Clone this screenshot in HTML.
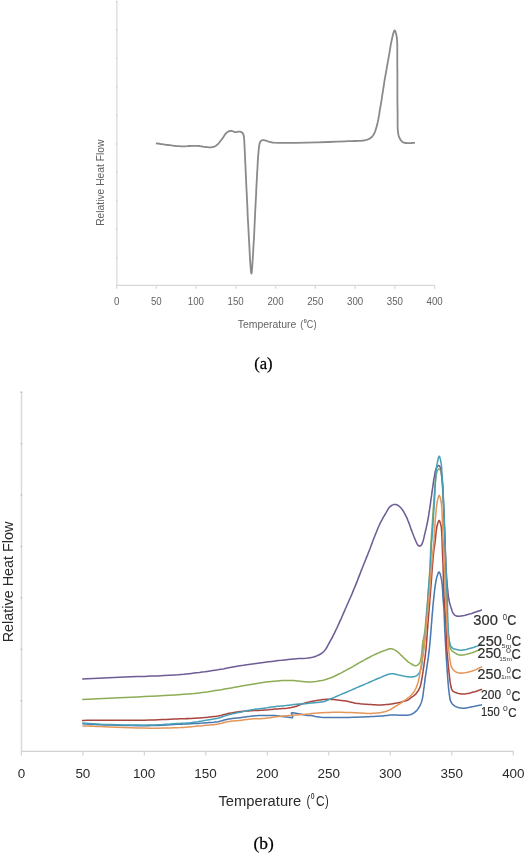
<!DOCTYPE html>
<html><head><meta charset="utf-8">
<style>
html,body{margin:0;padding:0;background:#fff;}
body{width:525px;height:854px;overflow:hidden;position:relative;}
svg{position:absolute;left:0;top:0;will-change:transform;}
text{font-family:"Liberation Sans",sans-serif;}
text.serif{font-family:"Liberation Serif",serif;}
</style></head><body>
<svg width="525" height="854" viewBox="0 0 525 854">
<rect width="525" height="854" fill="#fff"/>
<path d="M116.9,1 V285.3" stroke="#e2e2e2" stroke-width="1.6" fill="none"/>
<path d="M116.2,285.3 H435" stroke="#d8d8d8" stroke-width="1.3" fill="none"/>
<path d="M116.60,285.3 V288.7 M156.35,285.3 V288.7 M196.10,285.3 V288.7 M235.85,285.3 V288.7 M275.60,285.3 V288.7 M315.35,285.3 V288.7 M355.10,285.3 V288.7 M394.85,285.3 V288.7 M434.60,285.3 V288.7" stroke="#dadada" stroke-width="1.3" fill="none"/>
<g fill="#cfcfcf"><rect x="115.9" y="0.85" width="1.5" height="1.3"/><rect x="115.9" y="29.33" width="1.5" height="1.3"/><rect x="115.9" y="57.81" width="1.5" height="1.3"/><rect x="115.9" y="86.29" width="1.5" height="1.3"/><rect x="115.9" y="114.77" width="1.5" height="1.3"/><rect x="115.9" y="143.25" width="1.5" height="1.3"/><rect x="115.9" y="171.73" width="1.5" height="1.3"/><rect x="115.9" y="200.21" width="1.5" height="1.3"/><rect x="115.9" y="228.69" width="1.5" height="1.3"/><rect x="115.9" y="257.17" width="1.5" height="1.3"/></g>
<text transform="translate(113.90,305.00) scale(0.954,1)" font-size="10.17" fill="#636363">0</text>
<text transform="translate(150.95,305.00) scale(0.954,1)" font-size="10.17" fill="#636363">50</text>
<text transform="translate(187.83,305.00) scale(0.954,1)" font-size="10.17" fill="#636363">100</text>
<text transform="translate(227.58,305.00) scale(0.954,1)" font-size="10.17" fill="#636363">150</text>
<text transform="translate(267.46,305.00) scale(0.954,1)" font-size="10.17" fill="#636363">200</text>
<text transform="translate(307.21,305.00) scale(0.954,1)" font-size="10.17" fill="#636363">250</text>
<text transform="translate(347.01,305.00) scale(0.954,1)" font-size="10.17" fill="#636363">300</text>
<text transform="translate(386.76,305.00) scale(0.954,1)" font-size="10.17" fill="#636363">350</text>
<text transform="translate(426.59,305.00) scale(0.954,1)" font-size="10.17" fill="#636363">400</text>
<text transform="translate(237.77,327.80) scale(0.959,1)" font-size="10.90" fill="#636363">Temperature</text>
<text transform="translate(300.22,327.56) scale(0.871,1)" font-size="10.84" fill="#636363">(</text>
<text transform="translate(303.69,322.84) scale(0.896,1)" font-size="6.07" fill="#636363" font-weight="bold">0</text>
<text transform="translate(306.74,327.79) scale(0.850,1)" font-size="10.59" fill="#636363">C</text>
<text transform="translate(313.54,327.56) scale(0.871,1)" font-size="10.84" fill="#636363">)</text>
<text transform="translate(104.49,225.84) rotate(-90) scale(0.958,1)" font-size="10.75" fill="#636363">Relative Heat Flow</text>
<path d="M155.9,143.3 L157.4,143.5 158.9,143.7 160.4,144.0 161.9,144.2 163.4,144.4 164.9,144.6 166.5,144.8 168.0,145.0 169.6,145.2 171.2,145.4 172.8,145.6 174.4,145.8 176.0,146.0 177.6,146.1 179.3,146.2 181.0,146.3 183.0,146.3 185.0,146.3 187.1,146.2 189.2,146.0 191.3,145.9 193.3,145.8 195.3,145.8 197.0,145.8 198.1,145.9 199.2,146.0 200.2,146.2 201.2,146.3 202.2,146.5 203.1,146.7 204.0,146.8 205.0,146.9 205.9,147.0 206.8,147.1 207.7,147.2 208.6,147.3 209.5,147.3 210.3,147.3 211.1,147.3 211.9,147.2 212.5,147.1 213.1,146.9 213.7,146.8 214.2,146.6 214.8,146.3 215.3,146.1 215.9,145.8 216.4,145.4 217.1,144.8 217.9,144.1 218.6,143.3 219.3,142.5 220.0,141.6 220.7,140.6 221.4,139.8 222.1,138.9 222.7,138.1 223.3,137.2 223.8,136.3 224.4,135.5 224.9,134.6 225.5,133.9 226.1,133.2 226.7,132.6 227.2,132.2 227.7,131.9 228.1,131.7 228.6,131.4 229.1,131.2 229.7,131.1 230.2,131.0 230.7,130.9 231.3,130.9 231.9,131.0 232.5,131.2 233.2,131.5 233.8,131.7 234.4,132.0 235.0,132.1 235.6,132.2 236.0,132.2 236.5,132.1 236.9,132.0 237.3,131.9 237.6,131.8 238.0,131.7 238.4,131.6 238.8,131.6 239.2,131.6 239.5,131.6 239.9,131.7 240.2,131.7 240.6,131.8 240.9,131.9 241.2,132.1 241.5,132.2 241.8,132.4 242.0,132.5 242.2,132.7 242.5,133.0 242.7,133.2 242.9,133.4 243.0,133.7 243.2,134.0 243.4,134.4 243.5,134.8 243.6,135.3 243.7,135.8 243.8,136.3 243.9,136.8 243.9,137.4 244.0,138.0 244.1,139.0 244.2,140.0 244.3,141.1 244.3,142.3 244.4,143.6 244.5,144.9 244.5,146.4 244.6,148.0 244.8,151.8 245.0,156.2 245.2,161.2 245.5,166.5 245.7,172.1 246.0,177.8 246.2,183.5 246.5,189.0 246.8,195.0 247.1,201.1 247.4,207.4 247.6,213.7 247.9,220.0 248.3,226.2 248.6,232.2 248.9,238.0 249.2,243.2 249.5,249.0 249.8,254.9 250.1,260.6 250.5,265.7 250.8,269.8 251.1,272.6 251.4,273.6 251.6,273.1 251.8,271.8 252.0,269.7 252.2,267.1 252.4,264.2 252.6,261.0 252.8,257.8 253.0,254.8 253.3,249.7 253.6,244.0 254.0,237.8 254.3,231.4 254.6,224.7 254.9,218.1 255.2,211.7 255.5,205.6 255.8,200.2 256.1,194.6 256.3,189.1 256.6,183.6 256.9,178.4 257.1,173.5 257.4,169.0 257.6,165.0 257.7,163.0 257.8,161.2 257.9,159.4 258.0,157.8 258.1,156.3 258.3,154.8 258.4,153.4 258.5,152.0 258.6,150.9 258.7,149.9 258.8,148.9 258.9,147.9 259.0,147.0 259.1,146.1 259.2,145.3 259.4,144.5 259.5,144.0 259.6,143.6 259.8,143.1 259.9,142.7 260.0,142.3 260.2,141.9 260.4,141.6 260.6,141.3 260.8,141.1 261.1,140.9 261.3,140.7 261.6,140.5 261.9,140.4 262.2,140.3 262.5,140.2 262.8,140.1 263.1,140.1 263.5,140.1 263.8,140.1 264.2,140.2 264.6,140.3 264.9,140.4 265.3,140.5 265.7,140.6 266.2,140.7 266.7,140.9 267.3,141.1 267.8,141.3 268.4,141.5 268.9,141.7 269.5,141.9 270.0,142.0 270.5,142.1 270.9,142.2 271.3,142.3 271.7,142.4 272.1,142.5 272.6,142.6 273.2,142.6 273.9,142.7 278.8,142.9 286.4,142.9 295.9,142.8 306.4,142.6 317.4,142.3 328.0,142.0 337.4,141.6 345.0,141.3 348.5,141.2 351.9,141.1 355.0,141.0 358.0,140.9 360.7,140.8 363.2,140.5 365.5,140.1 367.4,139.6 368.3,139.2 369.1,138.9 369.9,138.5 370.5,138.0 371.1,137.6 371.7,137.0 372.3,136.4 372.8,135.8 373.4,134.9 374.0,134.0 374.5,132.9 375.0,131.8 375.4,130.6 375.8,129.4 376.2,128.1 376.6,126.7 377.2,124.6 377.7,122.4 378.2,120.0 378.6,117.5 379.1,115.0 379.5,112.3 379.9,109.6 380.4,106.9 381.0,103.5 381.6,99.9 382.1,96.2 382.7,92.5 383.3,88.7 383.9,85.0 384.4,81.3 385.0,77.9 385.5,75.1 386.0,72.3 386.5,69.6 386.9,66.9 387.4,64.3 387.9,61.7 388.3,59.1 388.8,56.6 389.2,54.4 389.6,52.1 389.9,49.9 390.3,47.8 390.6,45.6 391.0,43.6 391.4,41.6 391.8,39.8 392.1,38.4 392.5,36.8 392.8,35.2 393.2,33.7 393.6,32.4 393.9,31.4 394.3,30.7 394.6,30.4 394.9,30.6 395.2,31.0 395.5,31.6 395.7,32.5 396.0,33.5 396.3,34.6 396.5,35.7 396.7,36.8 397.0,39.4 397.2,42.4 397.3,45.8 397.3,49.5 397.3,53.5 397.3,57.5 397.3,61.6 397.3,65.7 397.4,71.0 397.4,76.7 397.4,82.7 397.4,88.8 397.4,94.8 397.4,100.7 397.5,106.3 397.6,111.4 397.6,114.9 397.6,118.4 397.6,121.9 397.6,125.1 397.7,128.2 397.9,131.1 398.2,133.6 398.7,135.8 399.1,136.8 399.4,137.8 399.9,138.7 400.3,139.5 400.8,140.2 401.4,140.9 401.9,141.4 402.5,141.9 403.0,142.2 403.5,142.5 404.0,142.6 404.6,142.8 405.2,142.9 405.7,143.0 406.4,143.0 407.0,143.1 407.9,143.2 408.8,143.2 409.8,143.1 410.9,143.1 411.9,143.0 412.9,142.9 414.0,142.9 415.0,142.8" fill="none" stroke="#8a8a8a" stroke-width="1.8" stroke-linejoin="round"/>
<text class="serif" transform="translate(254.17,369.23) scale(0.993,1)" font-size="16.76" fill="#000" stroke="#000" stroke-width="0.25">(a)</text>
<path d="M21.5,391.6 V751.3" stroke="#d9d9d9" stroke-width="1.5" fill="none"/>
<path d="M20.8,751.3 H513.6" stroke="#d2d2d2" stroke-width="1.3" fill="none"/>
<path d="M21.40,751.3 V755.5 M82.88,751.3 V755.5 M144.36,751.3 V755.5 M205.84,751.3 V755.5 M267.32,751.3 V755.5 M328.80,751.3 V755.5 M390.28,751.3 V755.5 M451.76,751.3 V755.5 M513.24,751.3 V755.5" stroke="#d6d6d6" stroke-width="1.3" fill="none"/>
<g fill="#bdbdbd"><rect x="20.6" y="391.60" width="1.6" height="1.4"/><rect x="20.6" y="443.00" width="1.6" height="1.4"/><rect x="20.6" y="494.40" width="1.6" height="1.4"/><rect x="20.6" y="545.80" width="1.6" height="1.4"/><rect x="20.6" y="597.20" width="1.6" height="1.4"/><rect x="20.6" y="648.60" width="1.6" height="1.4"/><rect x="20.6" y="700.00" width="1.6" height="1.4"/></g>
<text transform="translate(17.66,777.97) scale(1.002,1)" font-size="13.42" fill="#2a2a2a">0</text>
<text transform="translate(75.40,777.97) scale(1.002,1)" font-size="13.42" fill="#2a2a2a">50</text>
<text transform="translate(132.89,777.97) scale(1.002,1)" font-size="13.42" fill="#2a2a2a">100</text>
<text transform="translate(194.37,777.97) scale(1.002,1)" font-size="13.42" fill="#2a2a2a">150</text>
<text transform="translate(256.03,777.97) scale(1.002,1)" font-size="13.42" fill="#2a2a2a">200</text>
<text transform="translate(317.51,777.97) scale(1.002,1)" font-size="13.42" fill="#2a2a2a">250</text>
<text transform="translate(379.07,777.97) scale(1.002,1)" font-size="13.42" fill="#2a2a2a">300</text>
<text transform="translate(440.55,777.97) scale(1.002,1)" font-size="13.42" fill="#2a2a2a">350</text>
<text transform="translate(502.13,777.97) scale(1.002,1)" font-size="13.42" fill="#2a2a2a">400</text>
<text transform="translate(218.48,805.70) scale(1.036,1)" font-size="14.24" fill="#2a2a2a">Temperature</text>
<text transform="translate(306.50,805.81) scale(0.812,1)" font-size="13.95" fill="#2a2a2a">(</text>
<text transform="translate(311.06,799.41) scale(0.704,1)" font-size="8.62" fill="#2a2a2a" stroke="#2a2a2a" stroke-width="0.25">0</text>
<text transform="translate(316.09,806.25) scale(0.825,1)" font-size="14.55" fill="#2a2a2a">C</text>
<text transform="translate(325.03,805.81) scale(0.812,1)" font-size="13.95" fill="#2a2a2a">)</text>
<text transform="translate(13.05,642.28) rotate(-90) scale(0.988,1)" font-size="14.56" fill="#2a2a2a">Relative Heat Flow</text>
<g fill="none" stroke-width="1.55" stroke-linejoin="round">
<path d="M82.4,723.8 L84.5,723.9 86.6,724.1 88.6,724.2 90.6,724.3 92.7,724.5 95.0,724.6 97.4,724.7 100.0,724.8 105.1,725.0 111.0,725.1 117.4,725.3 124.2,725.5 131.1,725.6 137.8,725.6 144.2,725.6 150.0,725.6 154.2,725.5 158.4,725.4 162.5,725.2 166.5,725.0 170.3,724.7 173.8,724.5 177.1,724.3 180.0,724.2 181.5,724.1 182.8,724.1 184.0,724.0 185.2,724.0 186.3,724.0 187.5,723.9 188.7,723.9 190.0,723.8 191.8,723.7 193.8,723.6 195.8,723.5 197.9,723.4 200.0,723.2 202.1,723.1 204.1,722.9 206.0,722.8 207.6,722.7 209.2,722.6 210.7,722.5 212.2,722.4 213.7,722.3 215.1,722.1 216.6,721.9 218.0,721.7 219.3,721.4 220.6,721.1 221.8,720.8 223.0,720.4 224.2,720.0 225.5,719.7 226.7,719.4 228.0,719.1 229.4,718.9 230.9,718.7 232.4,718.5 233.9,718.3 235.4,718.2 237.0,718.0 238.5,717.9 240.0,717.7 241.5,717.5 243.0,717.3 244.5,717.1 246.0,716.9 247.5,716.6 249.0,716.4 250.5,716.3 252.0,716.1 253.5,716.0 255.0,715.8 256.5,715.7 258.0,715.6 259.5,715.5 261.0,715.5 262.5,715.4 264.0,715.4 265.5,715.4 267.1,715.4 268.6,715.4 270.2,715.4 271.7,715.5 273.2,715.5 274.7,715.6 276.0,715.7 277.0,715.8 277.9,715.9 278.7,716.0 279.6,716.1 280.4,716.2 281.2,716.4 282.1,716.5 282.9,716.6 283.8,716.7 284.7,716.8 285.6,716.9 286.5,717.0 287.4,717.1 288.2,717.2 289.0,717.3 289.7,717.4 290.1,717.5 290.5,717.5 290.9,717.6 291.3,717.7 291.6,717.7 291.9,717.7 292.2,717.7 292.4,717.6 292.5,717.5 292.6,717.3 292.6,717.1 292.7,716.8 292.7,716.6 292.7,716.3 292.6,716.0 292.6,715.8 292.6,715.5 292.5,715.3 292.4,715.0 292.3,714.7 292.1,714.5 292.0,714.2 291.9,714.0 291.8,713.8 291.7,713.7 291.6,713.6 291.6,713.5 291.5,713.4 291.4,713.3 291.3,713.2 291.3,713.2 291.3,713.1 291.4,713.0 291.5,713.0 291.6,712.9 291.8,712.9 291.9,712.9 292.1,712.8 292.3,712.8 292.5,712.8 292.7,712.8 292.9,712.8 293.1,712.8 293.3,712.8 293.5,712.9 293.8,712.9 294.0,713.0 294.3,713.0 294.9,713.1 295.5,713.2 296.2,713.3 297.0,713.4 297.7,713.6 298.5,713.7 299.3,713.9 300.0,714.0 300.7,714.1 301.4,714.3 302.1,714.5 302.8,714.6 303.5,714.8 304.3,714.9 305.0,715.1 305.7,715.2 306.5,715.3 307.2,715.4 308.0,715.4 308.8,715.4 309.6,715.5 310.4,715.5 311.2,715.6 312.0,715.7 312.8,715.8 313.6,716.0 314.4,716.2 315.3,716.4 316.1,716.6 317.0,716.8 318.0,717.0 319.0,717.1 320.9,717.3 323.0,717.4 325.3,717.5 327.7,717.5 330.2,717.5 332.8,717.5 335.4,717.5 338.0,717.5 341.4,717.5 345.0,717.4 348.7,717.4 352.6,717.3 356.4,717.2 360.1,717.0 363.5,716.9 366.7,716.8 368.8,716.7 370.8,716.6 372.7,716.5 374.5,716.4 376.2,716.3 378.0,716.2 379.7,716.1 381.4,716.0 382.9,715.9 384.4,715.7 385.9,715.5 387.3,715.4 388.7,715.2 390.2,715.1 391.5,715.0 392.9,714.9 394.1,714.9 395.3,714.9 396.4,715.0 397.6,715.1 398.7,715.2 399.8,715.2 400.9,715.3 402.0,715.3 403.0,715.3 404.1,715.3 405.2,715.3 406.2,715.3 407.2,715.2 408.2,715.1 409.1,715.0 410.0,714.8 410.6,714.6 411.1,714.4 411.7,714.2 412.1,714.0 412.6,713.7 413.1,713.4 413.5,713.1 414.0,712.8 414.5,712.5 414.9,712.1 415.4,711.7 415.8,711.3 416.3,710.9 416.7,710.4 417.1,710.0 417.5,709.5 417.9,708.9 418.3,708.4 418.7,707.8 419.1,707.1 419.5,706.5 419.9,705.8 420.2,705.2 420.5,704.5 420.8,703.8 421.0,703.2 421.3,702.5 421.5,701.9 421.7,701.2 421.9,700.5 422.1,699.7 422.3,698.9 422.6,697.7 422.8,696.3 423.0,694.8 423.2,693.3 423.4,691.8 423.6,690.3 423.8,688.8 424.0,687.4 424.2,686.3 424.3,685.2 424.4,684.1 424.6,683.1 424.7,682.1 424.8,681.0 425.0,680.0 425.1,678.9 425.3,677.7 425.4,676.6 425.6,675.4 425.8,674.2 426.0,673.0 426.2,671.7 426.4,670.4 426.6,669.0 426.9,666.9 427.2,664.7 427.6,662.3 427.9,659.9 428.3,657.4 428.6,654.9 428.9,652.4 429.2,650.0 429.5,647.5 429.7,645.0 430.0,642.5 430.2,639.9 430.4,637.4 430.6,634.9 430.8,632.4 431.0,630.0 431.2,627.9 431.3,625.8 431.5,623.7 431.7,621.7 431.8,619.7 432.0,617.6 432.1,615.6 432.3,613.6 432.5,611.6 432.7,609.6 432.8,607.5 433.0,605.5 433.2,603.5 433.4,601.5 433.6,599.6 433.8,597.7 434.0,596.1 434.1,594.5 434.3,593.0 434.5,591.5 434.6,590.0 434.8,588.5 435.0,587.1 435.2,585.7 435.4,584.5 435.6,583.3 435.8,582.0 436.0,580.9 436.2,579.7 436.5,578.6 436.7,577.6 437.0,576.6 437.2,575.9 437.5,575.1 437.8,574.3 438.0,573.6 438.3,573.0 438.6,572.5 438.8,572.1 439.1,572.0 439.3,572.1 439.6,572.5 439.8,573.0 440.1,573.6 440.3,574.3 440.5,575.1 440.7,575.9 440.9,576.6 441.1,577.6 441.4,578.6 441.5,579.7 441.7,580.9 441.9,582.0 442.0,583.3 442.2,584.5 442.3,585.7 442.4,587.1 442.5,588.6 442.6,590.1 442.7,591.6 442.8,593.1 442.8,594.7 442.9,596.2 443.0,597.7 443.1,599.2 443.2,600.7 443.4,602.2 443.5,603.7 443.6,605.2 443.8,606.7 443.9,608.3 444.0,610.0 444.1,612.3 444.2,614.7 444.3,617.1 444.4,619.7 444.5,622.3 444.6,624.9 444.7,627.5 444.8,630.0 444.9,632.5 445.1,635.0 445.2,637.5 445.3,640.1 445.5,642.6 445.6,645.1 445.8,647.6 445.9,650.0 446.0,652.3 446.2,654.6 446.3,656.8 446.4,659.1 446.6,661.3 446.7,663.6 446.9,665.8 447.0,668.0 447.2,670.2 447.3,672.4 447.5,674.6 447.6,676.9 447.8,679.0 448.0,681.1 448.1,683.1 448.3,685.0 448.4,686.3 448.5,687.5 448.6,688.6 448.8,689.7 448.9,690.8 449.0,691.9 449.1,692.9 449.3,694.0 449.4,695.0 449.6,696.0 449.7,697.0 449.8,698.0 450.0,698.9 450.2,699.8 450.5,700.7 450.8,701.5 451.2,702.2 451.6,702.9 452.0,703.5 452.5,704.1 453.1,704.7 453.6,705.2 454.3,705.7 454.9,706.1 455.7,706.5 456.5,706.9 457.4,707.3 458.3,707.5 459.3,707.8 460.3,708.0 461.3,708.1 462.3,708.2 463.5,708.2 464.7,708.2 465.9,708.0 467.2,707.8 468.4,707.6 469.7,707.3 471.0,707.0 472.2,706.8 473.4,706.6 474.7,706.3 475.9,706.1 477.1,705.8 478.3,705.5 479.6,705.2 480.8,705.0 482.0,704.7" stroke="#4a78b0"/>
<path d="M82.0,720.4 L84.2,720.4 86.3,720.3 88.4,720.3 90.4,720.3 92.6,720.3 94.9,720.2 97.3,720.2 100.0,720.2 105.1,720.2 111.0,720.2 117.5,720.2 124.2,720.2 131.1,720.3 137.8,720.2 144.2,720.2 150.0,720.1 154.2,720.0 158.4,719.8 162.5,719.6 166.5,719.5 170.3,719.3 173.8,719.1 177.1,718.9 180.0,718.8 181.5,718.8 182.8,718.7 184.0,718.7 185.2,718.7 186.3,718.6 187.5,718.6 188.7,718.6 190.0,718.5 191.8,718.4 193.8,718.3 195.8,718.2 197.9,718.0 200.0,717.9 202.1,717.7 204.1,717.6 206.0,717.4 207.6,717.3 209.2,717.1 210.7,717.0 212.2,716.8 213.7,716.6 215.1,716.4 216.6,716.2 218.0,716.0 219.3,715.7 220.5,715.5 221.8,715.2 223.0,714.8 224.2,714.5 225.5,714.2 226.7,713.9 228.0,713.6 229.4,713.3 230.9,713.0 232.4,712.8 233.9,712.5 235.4,712.2 237.0,712.0 238.5,711.8 240.0,711.6 241.5,711.4 243.0,711.3 244.5,711.2 245.9,711.1 247.4,711.0 248.9,710.9 250.5,710.8 252.0,710.7 253.7,710.6 255.4,710.5 257.2,710.4 258.9,710.4 260.7,710.3 262.4,710.2 264.1,710.1 265.7,710.0 267.1,709.9 268.4,709.8 269.6,709.6 270.9,709.5 272.1,709.4 273.4,709.2 274.7,709.1 276.0,709.0 277.5,708.9 279.0,708.8 280.5,708.7 282.1,708.6 283.6,708.5 285.2,708.4 286.6,708.3 288.0,708.1 289.1,707.9 290.2,707.7 291.3,707.6 292.3,707.3 293.3,707.1 294.2,706.9 295.1,706.6 296.0,706.4 296.6,706.2 297.1,706.0 297.6,705.8 298.1,705.6 298.5,705.4 299.0,705.2 299.5,705.0 300.0,704.8 300.6,704.6 301.2,704.3 301.8,704.1 302.5,703.9 303.1,703.6 303.7,703.4 304.4,703.2 305.0,703.0 305.6,702.8 306.2,702.7 306.8,702.5 307.5,702.4 308.1,702.2 308.7,702.1 309.4,701.9 310.0,701.8 310.7,701.6 311.4,701.5 312.2,701.3 312.9,701.2 313.6,701.0 314.4,700.9 315.2,700.7 316.0,700.6 317.0,700.4 318.1,700.2 319.3,700.1 320.5,699.9 321.6,699.7 322.8,699.6 323.9,699.5 325.0,699.4 325.9,699.3 326.8,699.3 327.7,699.3 328.5,699.3 329.4,699.3 330.2,699.3 331.1,699.4 332.0,699.4 333.0,699.5 334.0,699.6 335.0,699.7 336.0,699.8 337.1,699.9 338.1,700.1 339.1,700.2 340.0,700.3 340.8,700.4 341.5,700.5 342.2,700.6 342.9,700.7 343.7,700.7 344.4,700.8 345.2,701.0 346.0,701.1 347.2,701.3 348.5,701.6 349.9,701.9 351.3,702.2 352.7,702.6 354.2,702.9 355.6,703.2 357.1,703.4 358.7,703.6 360.3,703.8 361.9,703.9 363.5,704.1 365.2,704.2 366.8,704.3 368.4,704.4 370.0,704.5 371.4,704.6 372.8,704.7 374.2,704.7 375.6,704.8 377.0,704.9 378.3,704.9 379.7,704.9 381.0,704.9 382.2,704.9 383.4,704.8 384.6,704.7 385.7,704.6 386.9,704.5 388.0,704.4 389.0,704.3 390.0,704.2 390.7,704.1 391.4,704.0 392.0,703.9 392.6,703.8 393.2,703.7 393.8,703.5 394.4,703.4 395.0,703.3 395.6,703.2 396.3,703.1 396.9,703.0 397.5,702.9 398.2,702.8 398.8,702.7 399.4,702.5 400.0,702.4 400.5,702.3 401.0,702.1 401.5,702.0 401.9,701.8 402.4,701.7 402.9,701.5 403.3,701.3 403.8,701.2 404.3,701.1 404.8,701.0 405.2,700.9 405.7,700.8 406.2,700.7 406.7,700.5 407.1,700.4 407.6,700.2 408.1,699.9 408.6,699.6 409.1,699.3 409.5,698.9 410.0,698.5 410.5,698.1 410.9,697.8 411.4,697.4 411.9,697.0 412.4,696.7 412.9,696.4 413.4,696.0 413.8,695.7 414.3,695.3 414.8,694.9 415.2,694.5 415.6,694.1 416.1,693.6 416.5,693.1 416.9,692.6 417.3,692.1 417.6,691.5 418.0,691.0 418.3,690.5 418.6,690.0 418.9,689.5 419.1,689.0 419.4,688.5 419.6,688.0 419.8,687.5 420.0,687.0 420.2,686.5 420.4,686.0 420.5,685.4 420.7,684.9 420.8,684.3 420.9,683.8 421.1,683.2 421.2,682.6 421.3,682.0 421.4,681.3 421.6,680.6 421.7,679.8 421.8,679.1 421.9,678.3 422.1,677.6 422.2,676.8 422.3,676.0 422.4,675.2 422.6,674.4 422.7,673.6 422.8,672.7 423.0,671.9 423.1,671.0 423.2,670.0 423.4,669.0 423.7,667.1 424.0,665.0 424.3,662.7 424.6,660.4 425.0,657.9 425.3,655.3 425.6,652.6 425.9,650.0 426.2,646.6 426.5,642.9 426.8,639.1 427.1,635.2 427.4,631.3 427.7,627.4 427.9,623.6 428.2,620.0 428.5,616.9 428.7,613.9 429.0,610.9 429.2,608.0 429.5,605.1 429.7,602.2 429.9,599.1 430.2,596.0 430.5,592.2 430.8,588.3 431.1,584.2 431.4,580.1 431.7,576.0 431.9,572.1 432.2,568.4 432.5,565.0 432.7,562.8 432.9,560.8 433.0,558.8 433.2,556.9 433.4,555.0 433.5,553.3 433.7,551.6 433.9,550.0 434.0,548.9 434.2,547.8 434.4,546.8 434.5,545.8 434.7,544.8 434.8,543.9 435.0,542.9 435.1,542.0 435.2,541.2 435.3,540.5 435.3,539.8 435.4,539.1 435.5,538.3 435.5,537.6 435.6,536.8 435.7,536.0 435.8,534.8 436.0,533.5 436.1,532.1 436.3,530.7 436.5,529.3 436.7,527.9 436.9,526.6 437.2,525.5 437.4,524.7 437.6,523.9 437.9,523.0 438.1,522.2 438.4,521.6 438.6,521.0 438.9,520.6 439.1,520.5 439.3,520.6 439.6,521.0 439.9,521.6 440.1,522.2 440.4,523.0 440.6,523.9 440.8,524.7 441.0,525.5 441.2,526.6 441.4,527.9 441.5,529.2 441.6,530.6 441.7,532.0 441.8,533.4 441.8,534.7 441.9,536.0 442.0,537.0 442.0,538.0 442.0,538.9 442.1,539.9 442.1,540.8 442.1,541.9 442.2,543.0 442.2,544.2 442.3,546.7 442.4,549.6 442.5,552.8 442.7,556.2 442.8,559.7 443.0,563.2 443.1,566.7 443.2,570.0 443.3,573.3 443.4,576.5 443.5,579.8 443.6,583.1 443.6,586.3 443.7,589.6 443.9,592.8 444.0,596.0 444.2,599.0 444.4,602.0 444.6,605.0 444.8,607.9 445.1,610.8 445.3,613.8 445.5,616.9 445.7,620.0 445.9,623.7 446.0,627.6 446.2,631.6 446.3,635.6 446.4,639.6 446.6,643.4 446.7,646.9 446.9,650.0 447.0,651.8 447.2,653.4 447.3,654.9 447.4,656.3 447.6,657.7 447.7,659.1 447.9,660.5 448.0,662.0 448.1,663.5 448.3,665.0 448.4,666.4 448.6,667.9 448.7,669.4 448.9,670.9 449.0,672.3 449.2,673.8 449.4,675.3 449.5,676.8 449.7,678.3 449.9,679.8 450.0,681.3 450.2,682.7 450.5,684.0 450.7,685.2 450.9,686.0 451.0,686.8 451.2,687.5 451.4,688.2 451.6,688.9 451.8,689.5 452.1,690.1 452.5,690.6 453.0,691.1 453.6,691.5 454.2,691.9 454.9,692.3 455.6,692.6 456.3,692.8 457.1,693.1 457.8,693.3 458.6,693.5 459.5,693.7 460.4,693.8 461.3,693.9 462.3,693.9 463.2,694.0 464.2,693.9 465.1,693.9 466.1,693.8 467.2,693.6 468.3,693.4 469.3,693.2 470.4,692.9 471.5,692.6 472.5,692.3 473.6,692.0 474.7,691.7 475.7,691.4 476.8,691.0 477.8,690.7 478.9,690.3 479.9,689.9 481.0,689.6 482.0,689.2" stroke="#a8463f"/>
<path d="M82.2,699.4 L87.5,699.2 92.8,698.9 98.1,698.7 103.4,698.5 108.7,698.2 114.1,698.0 119.5,697.8 125.0,697.5 131.2,697.2 137.7,696.9 144.4,696.6 151.0,696.2 157.6,695.9 163.9,695.6 169.7,695.2 175.0,694.9 178.1,694.7 181.1,694.5 183.8,694.3 186.4,694.1 189.0,693.9 191.5,693.7 194.1,693.5 196.7,693.2 199.4,692.9 202.0,692.6 204.6,692.2 207.2,691.9 209.9,691.5 212.5,691.1 215.2,690.6 218.0,690.2 221.2,689.7 224.5,689.1 227.9,688.5 231.3,687.9 234.7,687.3 238.1,686.7 241.4,686.1 244.7,685.5 247.8,685.0 250.8,684.5 253.8,684.0 256.9,683.5 259.9,683.0 262.8,682.5 265.8,682.1 268.7,681.8 271.5,681.5 274.2,681.2 277.0,681.0 279.7,680.8 282.4,680.6 285.1,680.5 287.6,680.4 290.0,680.4 291.8,680.5 293.6,680.6 295.4,680.7 297.0,680.9 298.7,681.1 300.3,681.3 301.8,681.5 303.3,681.6 304.4,681.7 305.4,681.8 306.4,681.8 307.3,681.9 308.2,682.0 309.2,682.0 310.3,682.0 311.4,681.9 313.2,681.7 315.3,681.5 317.4,681.2 319.6,680.8 321.9,680.4 324.1,679.9 326.4,679.3 328.6,678.6 331.0,677.7 333.4,676.7 335.9,675.5 338.4,674.3 340.8,673.1 343.1,671.8 345.4,670.6 347.6,669.4 349.3,668.5 351.0,667.6 352.6,666.7 354.1,665.8 355.7,664.9 357.2,664.0 358.6,663.2 360.0,662.4 361.1,661.8 362.1,661.2 363.1,660.7 364.1,660.1 365.1,659.6 366.0,659.0 367.0,658.5 368.0,658.0 369.0,657.5 370.0,657.0 371.0,656.4 372.0,655.9 373.0,655.4 374.0,654.9 375.0,654.5 376.0,654.0 377.0,653.5 378.0,653.1 379.0,652.7 380.0,652.2 381.0,651.8 382.0,651.4 383.0,651.1 384.0,650.7 384.9,650.4 385.7,650.0 386.6,649.7 387.4,649.4 388.3,649.1 389.1,648.9 389.9,648.7 390.7,648.7 391.4,648.8 392.1,648.9 392.7,649.1 393.4,649.3 394.0,649.6 394.7,649.9 395.3,650.3 396.0,650.7 396.8,651.3 397.7,651.9 398.5,652.7 399.4,653.5 400.2,654.3 401.0,655.1 401.9,655.9 402.7,656.7 403.5,657.5 404.3,658.3 405.1,659.1 406.0,659.9 406.8,660.7 407.6,661.4 408.4,662.1 409.3,662.7 410.1,663.2 411.0,663.8 411.9,664.3 412.8,664.8 413.6,665.2 414.5,665.5 415.3,665.7 416.0,665.7 416.5,665.6 417.0,665.4 417.4,665.2 417.8,664.9 418.2,664.5 418.6,664.2 419.0,663.7 419.3,663.3 419.7,662.7 420.0,662.0 420.3,661.2 420.5,660.4 420.7,659.5 420.9,658.6 421.1,657.7 421.3,656.7 421.5,655.2 421.7,653.7 421.9,652.0 422.1,650.2 422.2,648.4 422.3,646.6 422.5,644.9 422.7,643.3 422.9,641.9 423.1,640.6 423.4,639.4 423.6,638.1 423.9,636.8 424.1,635.5 424.4,634.1 424.6,632.7 424.9,630.7 425.1,628.6 425.3,626.4 425.5,624.2 425.7,621.9 425.9,619.6 426.1,617.3 426.3,615.0 426.5,612.7 426.7,610.4 426.9,608.1 427.2,605.7 427.4,603.4 427.6,601.0 427.8,598.5 428.0,596.0 428.2,592.9 428.5,589.8 428.7,586.5 429.0,583.2 429.2,579.9 429.4,576.6 429.6,573.3 429.8,570.0 430.0,566.8 430.1,563.7 430.2,560.5 430.4,557.3 430.5,554.1 430.6,551.0 430.7,548.0 430.9,545.0 431.0,542.4 431.2,539.8 431.4,537.3 431.5,534.9 431.7,532.4 431.9,529.9 432.0,527.5 432.2,525.0 432.4,522.5 432.5,520.0 432.7,517.5 432.9,514.9 433.1,512.4 433.2,509.9 433.4,507.4 433.6,505.0 433.8,502.7 433.9,500.3 434.1,498.0 434.2,495.7 434.4,493.4 434.6,491.2 434.7,489.0 434.9,487.0 435.0,485.5 435.2,484.0 435.3,482.5 435.4,481.1 435.6,479.7 435.7,478.4 435.9,477.2 436.1,476.0 436.2,475.2 436.4,474.4 436.5,473.6 436.7,472.9 436.9,472.2 437.1,471.6 437.3,471.0 437.5,470.5 437.7,470.2 437.8,470.0 438.0,469.7 438.2,469.5 438.3,469.3 438.5,469.2 438.7,469.1 438.9,469.0 439.1,469.0 439.3,469.0 439.5,469.1 439.7,469.3 439.9,469.4 440.1,469.6 440.2,469.8 440.4,470.0 440.7,470.5 440.9,471.1 441.0,471.8 441.2,472.5 441.3,473.4 441.4,474.2 441.5,475.1 441.6,476.0 441.8,477.2 441.9,478.5 442.0,479.8 442.1,481.2 442.2,482.7 442.3,484.1 442.4,485.6 442.5,487.0 442.6,488.6 442.7,490.1 442.8,491.7 442.9,493.3 443.0,494.9 443.0,496.6 443.1,498.3 443.2,500.0 443.3,502.1 443.4,504.3 443.5,506.5 443.6,508.8 443.7,511.1 443.8,513.5 443.9,515.9 444.0,518.4 444.1,521.4 444.2,524.5 444.3,527.8 444.5,531.0 444.6,534.3 444.7,537.6 444.8,540.9 444.9,544.2 445.0,547.4 445.1,550.6 445.2,553.8 445.3,557.0 445.5,560.2 445.6,563.4 445.7,566.7 445.8,570.0 445.9,573.7 446.0,577.4 446.2,581.2 446.3,585.0 446.4,588.9 446.5,592.6 446.7,596.4 446.8,600.0 446.9,603.3 447.0,606.6 447.2,609.8 447.3,613.0 447.4,616.2 447.5,619.3 447.7,622.2 447.8,625.0 447.9,627.1 448.0,629.2 448.1,631.2 448.3,633.2 448.4,635.0 448.5,636.8 448.6,638.5 448.8,640.0 448.9,640.9 449.0,641.7 449.1,642.5 449.2,643.3 449.3,644.0 449.4,644.7 449.5,645.3 449.7,646.0 449.9,646.6 450.0,647.1 450.2,647.7 450.4,648.2 450.6,648.7 450.9,649.2 451.1,649.7 451.4,650.1 451.7,650.5 452.0,650.8 452.3,651.1 452.6,651.3 453.0,651.6 453.3,651.9 453.7,652.1 454.1,652.4 454.6,652.7 455.2,653.1 455.8,653.4 456.4,653.8 457.0,654.1 457.6,654.4 458.2,654.6 458.8,654.8 459.2,654.9 459.6,655.0 460.0,655.0 460.3,655.1 460.7,655.1 461.1,655.1 461.5,655.0 462.0,655.0 463.0,654.9 464.2,654.7 465.4,654.5 466.8,654.2 468.2,653.8 469.6,653.5 470.9,653.1 472.2,652.7 473.4,652.3 474.7,651.8 475.9,651.3 477.1,650.7 478.3,650.2 479.6,649.6 480.8,649.0 482.0,648.5" stroke="#8eac55"/>
<path d="M82.2,679.0 L87.5,678.8 92.8,678.5 98.1,678.3 103.4,678.1 108.7,677.8 114.1,677.6 119.5,677.3 125.0,677.1 131.2,676.8 137.7,676.6 144.4,676.4 151.0,676.1 157.6,675.9 163.9,675.6 169.7,675.3 175.0,675.0 178.1,674.8 181.1,674.5 183.8,674.3 186.4,674.0 189.0,673.7 191.5,673.4 194.1,673.1 196.7,672.8 199.4,672.5 202.0,672.1 204.7,671.8 207.3,671.4 210.0,671.0 212.7,670.6 215.3,670.2 218.0,669.8 220.7,669.3 223.4,668.9 226.1,668.3 228.8,667.8 231.5,667.3 234.3,666.8 237.1,666.3 240.0,665.8 243.4,665.3 246.9,664.7 250.6,664.2 254.2,663.7 257.9,663.2 261.6,662.7 265.2,662.2 268.7,661.8 272.0,661.4 275.2,661.0 278.5,660.6 281.7,660.3 284.9,659.9 288.0,659.6 291.0,659.3 294.0,659.0 296.5,658.8 298.9,658.6 301.3,658.5 303.6,658.4 305.9,658.3 308.1,658.1 310.2,657.7 312.2,657.3 313.7,656.9 315.2,656.4 316.6,655.9 318.0,655.3 319.3,654.7 320.6,654.0 321.8,653.2 322.9,652.3 324.1,651.2 325.1,649.9 326.1,648.5 327.0,647.0 327.9,645.4 328.7,643.8 329.6,642.2 330.5,640.6 331.5,638.8 332.5,637.0 333.4,635.1 334.4,633.2 335.3,631.3 336.2,629.3 337.2,627.3 338.1,625.3 339.1,623.1 340.1,620.9 341.2,618.6 342.2,616.3 343.2,613.9 344.2,611.6 345.2,609.3 346.2,607.0 347.2,604.7 348.2,602.5 349.2,600.2 350.2,598.0 351.2,595.7 352.2,593.4 353.1,591.1 354.1,588.8 355.1,586.4 356.1,583.9 357.1,581.4 358.0,578.9 359.0,576.4 360.0,573.9 360.9,571.4 361.9,569.0 362.8,566.7 363.8,564.3 364.7,562.0 365.6,559.7 366.5,557.4 367.5,555.1 368.3,552.9 369.2,550.7 370.0,548.7 370.7,546.8 371.4,544.9 372.1,543.0 372.8,541.1 373.5,539.3 374.2,537.5 374.9,535.7 375.5,534.1 376.2,532.5 376.8,531.0 377.4,529.5 378.0,528.0 378.7,526.5 379.3,525.0 380.0,523.6 380.7,522.2 381.4,520.9 382.1,519.6 382.8,518.2 383.5,516.9 384.3,515.7 385.0,514.5 385.7,513.3 386.3,512.3 386.8,511.3 387.4,510.4 387.9,509.4 388.4,508.6 389.0,507.7 389.6,507.0 390.3,506.4 390.9,506.0 391.5,505.6 392.1,505.2 392.8,504.9 393.4,504.6 394.1,504.5 394.8,504.4 395.4,504.4 396.1,504.5 396.7,504.7 397.4,505.1 398.1,505.5 398.7,505.9 399.4,506.5 400.0,507.0 400.6,507.6 401.4,508.5 402.1,509.4 402.9,510.5 403.6,511.6 404.3,512.8 405.0,514.1 405.6,515.4 406.3,516.7 407.1,518.4 407.8,520.2 408.6,522.1 409.3,524.1 410.0,526.1 410.7,528.0 411.3,529.9 412.0,531.6 412.5,533.0 413.1,534.3 413.6,535.7 414.1,537.0 414.6,538.2 415.1,539.4 415.6,540.5 416.0,541.5 416.3,542.1 416.5,542.6 416.8,543.2 417.0,543.6 417.2,544.1 417.5,544.5 417.7,544.9 418.0,545.2 418.2,545.4 418.4,545.6 418.6,545.7 418.8,545.8 419.0,545.9 419.2,546.0 419.4,546.1 419.6,546.1 419.8,546.1 420.0,546.0 420.2,546.0 420.4,545.8 420.6,545.7 420.8,545.6 421.0,545.4 421.2,545.2 421.5,544.9 421.7,544.5 421.9,544.1 422.1,543.6 422.3,543.1 422.5,542.6 422.7,542.1 422.9,541.5 423.2,540.6 423.5,539.7 423.7,538.6 424.0,537.5 424.2,536.4 424.5,535.3 424.7,534.1 425.0,533.0 425.3,531.7 425.6,530.4 426.0,529.0 426.3,527.6 426.6,526.2 426.9,524.8 427.2,523.4 427.5,522.0 427.8,520.5 428.0,519.0 428.3,517.5 428.6,516.0 428.8,514.5 429.0,513.0 429.3,511.5 429.5,510.0 429.7,508.5 429.9,507.0 430.2,505.5 430.4,503.9 430.6,502.4 430.8,500.9 431.0,499.4 431.2,498.0 431.4,496.7 431.6,495.4 431.7,494.2 431.9,493.0 432.1,491.7 432.2,490.5 432.4,489.3 432.6,488.0 432.8,486.6 433.0,485.3 433.2,483.8 433.4,482.4 433.6,481.0 433.8,479.7 434.1,478.3 434.3,477.0 434.5,475.8 434.7,474.7 434.9,473.5 435.1,472.4 435.3,471.3 435.6,470.3 435.9,469.3 436.2,468.5 436.5,468.0 436.7,467.5 437.0,467.0 437.4,466.5 437.7,466.1 438.0,465.8 438.3,465.6 438.6,465.5 438.9,465.6 439.1,465.7 439.4,466.0 439.7,466.3 439.9,466.7 440.2,467.1 440.4,467.6 440.6,468.0 440.8,468.7 441.0,469.4 441.2,470.3 441.3,471.2 441.3,472.1 441.4,473.1 441.5,474.0 441.6,475.0 441.7,476.1 441.9,477.3 442.0,478.5 442.1,479.8 442.3,481.0 442.4,482.3 442.5,483.6 442.6,485.0 442.7,486.7 442.8,488.5 442.9,490.3 443.0,492.2 443.1,494.1 443.2,496.1 443.3,498.0 443.4,500.0 443.5,502.1 443.6,504.3 443.7,506.5 443.8,508.7 443.9,510.9 444.0,513.2 444.1,515.6 444.2,518.0 444.3,521.0 444.4,524.2 444.5,527.4 444.6,530.7 444.8,534.0 444.9,537.4 445.0,540.7 445.1,544.0 445.2,547.3 445.3,550.6 445.5,554.0 445.6,557.3 445.7,560.6 445.9,563.8 446.0,567.0 446.2,570.0 446.3,572.4 446.5,574.8 446.6,577.2 446.8,579.4 447.0,581.7 447.1,583.8 447.3,585.9 447.5,588.0 447.7,589.6 447.8,591.2 448.0,592.8 448.2,594.3 448.3,595.8 448.5,597.3 448.8,598.7 449.0,600.0 449.2,601.0 449.4,602.0 449.7,603.0 449.9,603.9 450.2,604.8 450.4,605.7 450.7,606.5 451.0,607.4 451.3,608.2 451.5,609.1 451.8,609.9 452.0,610.7 452.3,611.5 452.6,612.2 452.9,612.9 453.3,613.5 453.6,613.9 453.9,614.3 454.2,614.6 454.5,614.9 454.9,615.2 455.2,615.4 455.6,615.6 456.0,615.8 456.4,615.9 456.8,616.1 457.2,616.1 457.6,616.2 458.0,616.2 458.5,616.2 459.0,616.2 459.5,616.2 460.5,616.1 461.6,616.0 462.8,615.7 464.0,615.5 465.3,615.2 466.7,614.8 468.0,614.5 469.3,614.1 470.8,613.7 472.4,613.2 474.0,612.6 475.6,612.1 477.2,611.5 478.8,610.9 480.4,610.4 482.0,609.8" stroke="#6e5c94"/>
<path d="M82.4,723.1 L83.3,723.1 84.3,723.2 85.2,723.2 86.1,723.3 87.1,723.3 88.0,723.4 89.0,723.4 90.0,723.5 91.1,723.6 92.2,723.7 93.3,723.8 94.4,723.8 95.6,723.9 96.9,724.0 98.4,724.1 100.0,724.2 104.5,724.4 110.1,724.6 116.5,724.8 123.4,724.9 130.5,725.1 137.5,725.1 144.1,725.2 150.0,725.1 154.2,725.0 158.4,724.8 162.5,724.6 166.5,724.3 170.3,724.1 173.8,723.8 177.1,723.6 180.0,723.4 181.5,723.3 182.8,723.3 184.0,723.2 185.2,723.2 186.3,723.1 187.5,723.0 188.7,722.9 190.0,722.8 191.8,722.6 193.8,722.3 195.8,722.0 197.9,721.7 200.0,721.3 202.1,721.0 204.1,720.6 206.0,720.3 207.6,720.0 209.2,719.8 210.7,719.6 212.2,719.3 213.7,719.1 215.1,718.8 216.6,718.5 218.0,718.2 219.3,717.8 220.6,717.4 221.8,717.0 223.0,716.6 224.2,716.1 225.5,715.7 226.7,715.3 228.0,714.9 229.4,714.5 230.9,714.2 232.4,713.8 233.9,713.5 235.4,713.2 237.0,712.8 238.5,712.5 240.0,712.2 241.5,711.9 243.0,711.6 244.5,711.2 246.0,710.9 247.5,710.6 249.0,710.3 250.5,710.1 252.0,709.8 253.5,709.6 255.0,709.3 256.5,709.1 258.0,709.0 259.5,708.8 261.0,708.6 262.5,708.4 264.0,708.2 265.5,708.0 267.0,707.8 268.5,707.5 270.0,707.3 271.5,707.1 273.0,706.9 274.5,706.7 276.0,706.5 277.5,706.3 279.1,706.2 280.6,706.0 282.2,705.9 283.7,705.7 285.2,705.6 286.6,705.4 288.0,705.3 289.1,705.2 290.1,705.0 291.1,704.9 292.1,704.8 293.0,704.6 294.0,704.5 295.0,704.4 296.0,704.3 297.1,704.2 298.3,704.1 299.5,704.1 300.6,704.0 301.8,703.9 302.9,703.9 304.0,703.8 305.0,703.7 305.7,703.6 306.3,703.6 306.9,703.5 307.5,703.4 308.1,703.3 308.7,703.3 309.3,703.2 310.0,703.1 311.1,703.0 312.3,702.9 313.7,702.8 315.0,702.7 316.4,702.6 317.7,702.5 318.9,702.3 320.0,702.2 320.7,702.1 321.4,702.0 322.0,701.9 322.6,701.8 323.2,701.7 323.8,701.5 324.4,701.4 325.0,701.2 325.6,701.0 326.2,700.8 326.8,700.5 327.4,700.3 328.0,700.0 328.6,699.7 329.3,699.4 330.0,699.1 331.1,698.6 332.3,698.2 333.5,697.6 334.8,697.1 336.1,696.5 337.4,696.0 338.7,695.4 340.0,694.9 341.3,694.4 342.5,693.8 343.8,693.3 345.0,692.8 346.3,692.2 347.5,691.7 348.8,691.1 350.0,690.6 351.3,690.1 352.5,689.5 353.8,689.0 355.0,688.5 356.2,687.9 357.5,687.4 358.8,686.8 360.0,686.3 361.2,685.8 362.5,685.2 363.8,684.7 365.0,684.1 366.2,683.6 367.5,683.1 368.8,682.5 370.0,682.0 371.2,681.5 372.5,680.9 373.7,680.4 375.0,679.8 376.2,679.3 377.4,678.7 378.7,678.2 380.0,677.7 381.4,677.1 382.8,676.5 384.2,675.9 385.7,675.3 387.1,674.7 388.5,674.2 389.9,673.9 391.3,673.7 392.4,673.7 393.5,673.8 394.6,674.0 395.7,674.2 396.8,674.5 397.8,674.8 398.9,675.1 400.0,675.3 401.2,675.5 402.3,675.8 403.5,676.0 404.7,676.3 405.9,676.5 407.1,676.7 408.2,676.8 409.3,676.9 410.2,676.9 411.1,676.9 412.0,676.9 412.9,676.8 413.8,676.7 414.6,676.5 415.3,676.3 416.0,676.0 416.5,675.7 417.0,675.4 417.5,675.0 417.9,674.6 418.3,674.1 418.6,673.7 419.0,673.2 419.3,672.7 419.6,672.1 419.9,671.5 420.2,670.9 420.5,670.2 420.7,669.6 420.9,668.8 421.1,668.1 421.3,667.3 421.5,666.2 421.8,664.9 421.9,663.7 422.1,662.3 422.2,660.9 422.4,659.5 422.5,658.1 422.7,656.7 422.9,655.1 423.1,653.5 423.3,651.8 423.5,650.1 423.6,648.4 423.8,646.7 424.0,645.0 424.2,643.3 424.4,641.7 424.6,640.0 424.8,638.4 425.0,636.8 425.2,635.2 425.3,633.5 425.5,631.8 425.7,630.0 425.9,627.7 426.1,625.3 426.3,622.8 426.4,620.3 426.6,617.7 426.8,615.1 426.9,612.5 427.1,610.0 427.3,607.5 427.4,605.0 427.6,602.5 427.8,600.0 428.0,597.5 428.1,595.0 428.3,592.5 428.5,590.0 428.7,587.5 428.9,585.1 429.1,582.6 429.3,580.1 429.5,577.7 429.7,575.2 429.9,572.6 430.1,570.0 430.3,567.0 430.5,563.8 430.6,560.6 430.8,557.3 430.9,554.0 431.1,550.9 431.2,547.8 431.4,545.0 431.5,542.9 431.7,540.9 431.9,539.0 432.0,537.2 432.2,535.3 432.3,533.5 432.5,531.8 432.6,530.0 432.7,528.5 432.8,527.0 432.9,525.5 433.0,524.1 433.0,522.6 433.1,521.1 433.2,519.6 433.3,518.0 433.4,515.9 433.6,513.8 433.7,511.6 433.9,509.3 434.1,507.0 434.2,504.7 434.4,502.3 434.5,500.0 434.6,497.5 434.8,494.9 434.9,492.3 435.0,489.7 435.1,487.1 435.2,484.6 435.4,482.2 435.5,480.0 435.6,478.4 435.7,476.9 435.8,475.5 435.9,474.1 436.0,472.7 436.2,471.4 436.3,470.2 436.4,469.0 436.5,468.2 436.6,467.4 436.6,466.7 436.7,466.0 436.8,465.3 436.9,464.6 437.1,463.9 437.2,463.2 437.4,462.3 437.6,461.2 437.9,460.0 438.1,458.9 438.4,457.8 438.7,457.0 438.9,456.4 439.2,456.2 439.4,456.4 439.7,456.9 440.0,457.7 440.2,458.7 440.5,459.8 440.7,461.0 440.9,462.1 441.1,463.2 441.3,464.5 441.4,465.8 441.6,467.2 441.7,468.7 441.7,470.1 441.8,471.6 441.9,473.1 442.0,474.5 442.1,475.9 442.2,477.3 442.3,478.6 442.4,480.0 442.5,481.4 442.6,482.8 442.7,484.2 442.8,485.7 442.9,487.4 443.0,489.1 443.0,490.8 443.1,492.5 443.2,494.3 443.3,496.1 443.3,497.9 443.4,499.8 443.5,502.0 443.6,504.2 443.7,506.5 443.8,508.7 443.9,511.1 444.0,513.5 444.1,515.9 444.2,518.4 444.3,521.4 444.4,524.6 444.5,527.8 444.7,531.0 444.8,534.3 444.9,537.7 445.0,540.9 445.1,544.2 445.2,547.4 445.3,550.6 445.4,553.9 445.5,557.1 445.6,560.3 445.8,563.5 445.9,566.8 446.0,570.0 446.1,573.2 446.3,576.4 446.4,579.7 446.6,582.9 446.8,586.1 446.9,589.4 447.1,592.6 447.2,596.0 447.3,599.8 447.4,603.7 447.5,607.7 447.5,611.8 447.6,615.7 447.7,619.6 447.8,623.2 448.0,626.5 448.1,628.7 448.3,630.9 448.4,633.0 448.6,635.0 448.8,636.9 449.0,638.7 449.2,640.3 449.5,641.7 449.7,642.4 449.8,643.1 450.0,643.7 450.1,644.3 450.3,644.8 450.5,645.4 450.7,645.8 451.0,646.3 451.2,646.7 451.5,647.0 451.8,647.3 452.0,647.6 452.3,647.9 452.7,648.2 453.0,648.4 453.3,648.6 453.6,648.8 453.9,648.9 454.2,649.0 454.6,649.0 454.9,649.1 455.3,649.2 455.6,649.2 456.0,649.3 456.5,649.4 457.1,649.6 457.6,649.7 458.2,649.9 458.9,650.0 459.5,650.1 460.2,650.2 460.9,650.2 462.1,650.1 463.4,650.0 464.8,649.7 466.3,649.4 467.8,649.0 469.3,648.6 470.8,648.2 472.2,647.8 473.5,647.4 474.7,647.0 475.9,646.6 477.2,646.1 478.4,645.7 479.6,645.2 480.8,644.7 482.0,644.3" stroke="#479fb8"/>
<path d="M82.4,725.9 L83.3,725.9 84.3,725.9 85.2,726.0 86.1,726.0 87.1,726.0 88.0,726.0 89.0,726.1 90.0,726.1 91.1,726.1 92.2,726.2 93.3,726.3 94.4,726.3 95.6,726.4 96.9,726.5 98.4,726.5 100.0,726.6 104.5,726.8 110.1,727.0 116.5,727.3 123.4,727.5 130.5,727.8 137.5,728.0 144.1,728.1 150.0,728.2 154.2,728.2 158.4,728.2 162.5,728.1 166.5,728.0 170.3,728.0 173.8,727.8 177.1,727.7 180.0,727.6 181.5,727.5 182.8,727.5 184.0,727.4 185.2,727.3 186.3,727.2 187.5,727.1 188.7,727.0 190.0,726.9 191.8,726.7 193.8,726.6 195.8,726.3 197.9,726.1 200.0,725.9 202.1,725.7 204.1,725.5 206.0,725.3 207.6,725.2 209.1,725.0 210.7,724.9 212.2,724.8 213.7,724.7 215.1,724.5 216.6,724.3 218.0,724.1 219.3,723.8 220.5,723.5 221.8,723.2 223.0,722.8 224.2,722.5 225.5,722.2 226.7,721.9 228.0,721.6 229.4,721.4 230.9,721.2 232.4,721.0 233.9,720.9 235.4,720.8 237.0,720.7 238.5,720.6 240.0,720.4 241.5,720.2 243.0,720.0 244.5,719.8 246.0,719.6 247.5,719.4 249.0,719.2 250.5,719.0 252.0,718.9 253.5,718.8 255.0,718.8 256.5,718.7 258.0,718.7 259.5,718.7 261.0,718.7 262.5,718.6 264.0,718.5 265.5,718.3 267.0,718.1 268.6,717.9 270.1,717.7 271.6,717.4 273.1,717.2 274.6,717.0 276.0,716.8 277.2,716.7 278.3,716.5 279.5,716.4 280.6,716.3 281.7,716.2 282.8,716.1 283.9,716.0 285.0,715.9 286.2,715.8 287.4,715.7 288.6,715.6 289.8,715.5 291.0,715.4 292.1,715.3 293.2,715.2 294.3,715.1 295.1,715.0 295.8,715.0 296.5,714.9 297.1,714.9 297.8,714.9 298.5,714.8 299.2,714.8 300.0,714.7 301.1,714.6 302.4,714.5 303.7,714.4 305.0,714.3 306.4,714.2 307.7,714.0 308.9,713.9 310.0,713.8 310.7,713.7 311.3,713.6 311.9,713.6 312.5,713.5 313.1,713.4 313.7,713.3 314.4,713.3 315.2,713.2 316.8,713.1 318.7,712.9 320.8,712.8 323.0,712.7 325.3,712.5 327.6,712.4 330.0,712.4 332.4,712.3 335.3,712.3 338.4,712.3 341.7,712.3 345.0,712.4 348.2,712.5 351.4,712.6 354.4,712.7 357.1,712.8 358.9,712.9 360.6,713.0 362.3,713.1 363.9,713.2 365.4,713.3 366.9,713.4 368.5,713.4 370.0,713.4 371.4,713.4 372.8,713.3 374.2,713.3 375.6,713.2 377.0,713.1 378.4,713.0 379.7,712.8 381.0,712.6 382.2,712.3 383.4,712.0 384.6,711.7 385.8,711.4 386.9,711.0 388.0,710.6 389.0,710.1 390.0,709.7 390.7,709.3 391.4,709.0 392.0,708.6 392.6,708.2 393.2,707.8 393.8,707.4 394.4,707.0 395.0,706.6 395.6,706.2 396.3,705.8 396.9,705.5 397.5,705.1 398.2,704.7 398.8,704.3 399.4,704.0 400.0,703.6 400.5,703.3 401.0,702.9 401.5,702.6 401.9,702.3 402.4,702.0 402.9,701.7 403.3,701.3 403.8,701.0 404.3,700.7 404.8,700.3 405.2,700.0 405.7,699.6 406.2,699.3 406.7,698.9 407.1,698.6 407.6,698.2 408.1,697.8 408.6,697.4 409.1,697.1 409.6,696.7 410.0,696.3 410.5,695.9 411.0,695.4 411.4,695.0 411.8,694.5 412.3,694.0 412.7,693.5 413.1,693.0 413.4,692.4 413.8,691.9 414.2,691.4 414.5,690.8 414.8,690.3 415.1,689.7 415.4,689.2 415.7,688.6 416.0,688.1 416.2,687.5 416.5,686.9 416.7,686.3 417.0,685.6 417.2,684.9 417.4,684.2 417.7,683.5 417.9,682.8 418.1,682.0 418.3,681.3 418.5,680.5 418.7,679.6 418.9,678.7 419.1,677.8 419.3,676.8 419.5,675.9 419.7,674.9 419.8,674.0 420.0,673.0 420.2,672.0 420.3,671.1 420.4,670.1 420.5,669.2 420.7,668.2 420.8,667.2 420.9,666.1 421.1,665.0 421.4,663.4 421.7,661.7 422.0,659.9 422.3,658.1 422.7,656.2 423.0,654.2 423.4,652.2 423.7,650.0 424.1,646.7 424.5,643.2 424.9,639.4 425.3,635.4 425.7,631.5 426.1,627.5 426.4,623.7 426.8,620.0 427.1,616.9 427.4,613.9 427.7,611.0 428.0,608.1 428.3,605.2 428.6,602.3 428.9,599.2 429.2,596.0 429.6,591.7 429.9,587.2 430.3,582.4 430.6,577.5 431.0,572.7 431.3,568.1 431.7,563.8 432.0,560.0 432.2,557.7 432.5,555.6 432.7,553.6 432.9,551.6 433.1,549.8 433.3,547.9 433.5,546.1 433.7,544.2 433.8,542.4 434.0,540.6 434.1,538.8 434.2,537.0 434.3,535.2 434.4,533.4 434.5,531.7 434.6,530.0 434.7,528.4 434.8,526.9 434.9,525.3 435.0,523.8 435.1,522.3 435.2,520.8 435.3,519.4 435.4,518.0 435.5,516.9 435.6,515.9 435.7,514.9 435.8,513.9 435.9,513.0 436.0,512.0 436.1,511.0 436.2,510.0 436.3,508.9 436.4,507.7 436.6,506.6 436.7,505.4 436.9,504.2 437.0,503.1 437.2,502.0 437.4,501.0 437.6,500.2 437.8,499.2 438.0,498.3 438.3,497.4 438.5,496.6 438.7,496.0 439.0,495.6 439.2,495.4 439.4,495.6 439.7,496.0 439.9,496.6 440.2,497.4 440.4,498.3 440.6,499.2 440.8,500.2 441.0,501.0 441.2,502.0 441.3,503.1 441.5,504.2 441.6,505.4 441.7,506.6 441.7,507.7 441.8,508.9 441.9,510.0 442.0,511.0 442.0,511.9 442.1,512.8 442.1,513.7 442.2,514.7 442.2,515.7 442.2,516.8 442.3,518.0 442.4,520.6 442.5,523.5 442.6,526.7 442.8,530.2 442.9,533.7 443.0,537.3 443.2,540.8 443.3,544.2 443.4,547.4 443.6,550.7 443.7,553.9 443.9,557.1 444.1,560.3 444.2,563.5 444.4,566.8 444.5,570.0 444.6,573.2 444.8,576.5 444.9,579.7 445.0,582.9 445.1,586.1 445.2,589.4 445.4,592.7 445.5,596.0 445.7,599.6 445.8,603.2 446.0,606.9 446.2,610.5 446.4,614.2 446.6,617.9 446.8,621.5 447.0,625.0 447.2,628.3 447.4,631.6 447.6,634.9 447.9,638.2 448.1,641.4 448.3,644.5 448.6,647.4 448.8,650.0 449.0,651.7 449.1,653.2 449.3,654.7 449.4,656.2 449.6,657.6 449.8,658.9 450.0,660.2 450.2,661.4 450.4,662.3 450.6,663.3 450.7,664.2 450.9,665.0 451.2,665.9 451.4,666.6 451.7,667.4 452.1,668.1 452.5,668.7 452.9,669.2 453.3,669.8 453.8,670.3 454.3,670.8 454.8,671.2 455.3,671.6 455.9,671.9 456.5,672.2 457.0,672.4 457.6,672.6 458.2,672.8 458.8,672.9 459.5,673.0 460.2,673.1 460.9,673.1 462.1,673.1 463.4,673.0 464.9,672.8 466.3,672.5 467.8,672.2 469.3,671.8 470.8,671.4 472.2,671.0 473.5,670.6 474.7,670.1 476.0,669.6 477.2,669.0 478.4,668.4 479.6,667.8 480.8,667.3 482.0,666.7" stroke="#e4975a"/>
</g>
<text transform="translate(473.34,625.16) scale(1.031,1)" font-size="14.27" fill="#2e2e2e" stroke="#2e2e2e" stroke-width="0.2">300</text>
<text transform="translate(502.80,619.71) scale(0.898,1)" font-size="8.62" fill="#2e2e2e">0</text>
<text transform="translate(507.26,625.35) scale(0.858,1)" font-size="14.55" fill="#2e2e2e" stroke="#2e2e2e" stroke-width="0.2">C</text>
<text transform="translate(477.57,645.56) scale(1.036,1)" font-size="14.12" fill="#2e2e2e" stroke="#2e2e2e" stroke-width="0.2">250</text>
<text transform="translate(501.51,648.04) scale(1.177,1)" font-size="6.16" fill="#404040">5m</text>
<text transform="translate(506.56,639.91) scale(1.003,1)" font-size="8.76" fill="#2e2e2e">0</text>
<text transform="translate(511.42,645.85) scale(0.912,1)" font-size="14.55" fill="#2e2e2e" stroke="#2e2e2e" stroke-width="0.2">C</text>
<text transform="translate(477.59,658.45) scale(0.957,1)" font-size="14.83" fill="#2e2e2e" stroke="#2e2e2e" stroke-width="0.2">250</text>
<text transform="translate(499.20,660.94) scale(1.071,1)" font-size="6.16" fill="#404040">15m</text>
<text transform="translate(506.05,653.22) scale(1.117,1)" font-size="8.05" fill="#2e2e2e">0</text>
<text transform="translate(511.45,658.86) scale(0.906,1)" font-size="14.12" fill="#2e2e2e" stroke="#2e2e2e" stroke-width="0.2">C</text>
<text transform="translate(477.58,679.45) scale(0.965,1)" font-size="14.83" fill="#2e2e2e" stroke="#2e2e2e" stroke-width="0.2">250</text>
<text transform="translate(501.08,679.30) scale(1.186,1)" font-size="5.81" fill="#404040">1m</text>
<text transform="translate(506.59,672.91) scale(0.908,1)" font-size="8.76" fill="#2e2e2e">0</text>
<text transform="translate(511.41,679.45) scale(0.916,1)" font-size="14.83" fill="#2e2e2e" stroke="#2e2e2e" stroke-width="0.2">C</text>
<text transform="translate(481.10,698.98) scale(0.979,1)" font-size="12.29" fill="#2e2e2e" stroke="#2e2e2e" stroke-width="0.2">200</text>
<text transform="translate(506.27,695.32) scale(1.004,1)" font-size="8.33" fill="#2e2e2e">0</text>
<text transform="translate(511.47,700.76) scale(0.872,1)" font-size="14.12" fill="#2e2e2e" stroke="#2e2e2e" stroke-width="0.2">C</text>
<text transform="translate(481.05,715.88) scale(0.912,1)" font-size="12.29" fill="#2e2e2e" stroke="#2e2e2e" stroke-width="0.2">150</text>
<text transform="translate(503.07,711.32) scale(1.104,1)" font-size="7.77" fill="#2e2e2e">0</text>
<text transform="translate(508.31,716.78) scale(0.938,1)" font-size="12.29" fill="#2e2e2e" stroke="#2e2e2e" stroke-width="0.2">C</text>
<text class="serif" transform="translate(253.53,849.00) scale(1.062,1)" font-size="16.43" fill="#000" stroke="#000" stroke-width="0.25">(b)</text>
</svg>
</body></html>
